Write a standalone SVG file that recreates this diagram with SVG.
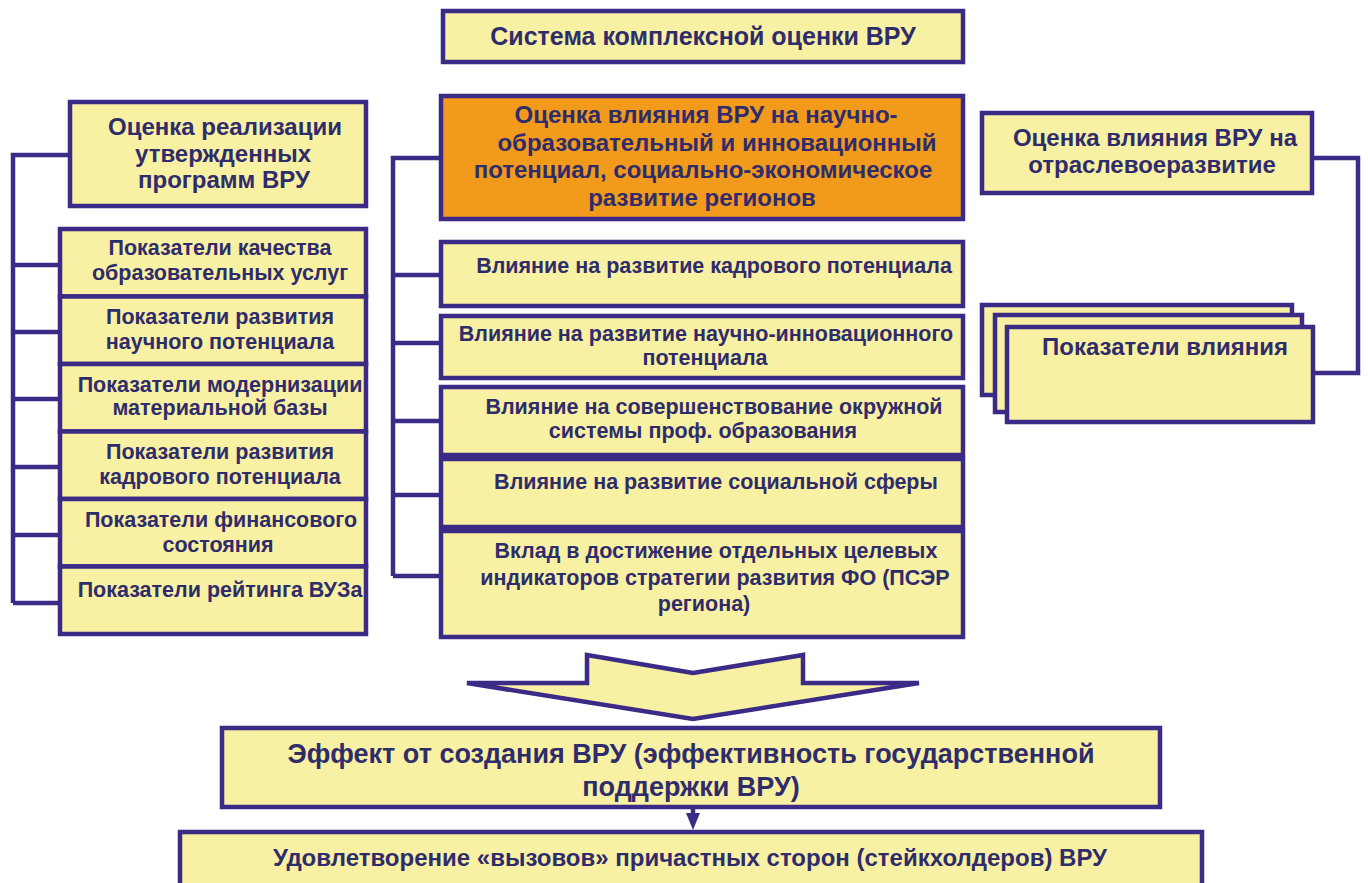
<svg xmlns="http://www.w3.org/2000/svg" width="1368" height="883" viewBox="0 0 1368 883">
<style>
.box{fill:#f8f0a2;stroke:#3b2a86;stroke-width:4.5}
.org{fill:#f29a1c;stroke:#3b2a86;stroke-width:4.5}
.ln{fill:none;stroke:#3b2a86;stroke-width:4.5}
text{font-family:"Liberation Sans",Arial,sans-serif;font-weight:bold;fill:#2f2c6c;text-anchor:middle}
.h{font-size:24px}
.s{font-size:21.5px}
.b{font-size:27px}
</style>
<rect width="1368" height="883" fill="#ffffff"/>
<g id="connectors">
<polyline class="ln" points="72,155 13,155 13,603"/>
<line class="ln" x1="13" y1="265" x2="60" y2="265"/>
<line class="ln" x1="13" y1="332" x2="60" y2="332"/>
<line class="ln" x1="13" y1="399" x2="60" y2="399"/>
<line class="ln" x1="13" y1="467" x2="60" y2="467"/>
<line class="ln" x1="13" y1="535" x2="60" y2="535"/>
<line class="ln" x1="13" y1="603" x2="60" y2="603"/>
<polyline class="ln" points="441,158 393,158 393,576"/>
<line class="ln" x1="393" y1="275" x2="441" y2="275"/>
<line class="ln" x1="393" y1="343" x2="441" y2="343"/>
<line class="ln" x1="393" y1="421" x2="441" y2="421"/>
<line class="ln" x1="393" y1="495" x2="441" y2="495"/>
<line class="ln" x1="393" y1="576" x2="441" y2="576"/>
<polyline class="ln" points="1312,158 1358,158 1358,373 1313,373"/>
<line class="ln" x1="693" y1="807" x2="693" y2="815"/>
<polygon points="686,813 700,813 693,830" fill="#3b2a86"/>
</g>
<g id="title">
<rect class="box" x="443" y="11" width="520" height="51"/>
<text x="703" y="45" style="font-size:25px">Система комплексной оценки ВРУ</text>
</g>
<g id="orange">
<rect class="org" x="441" y="96" width="522" height="123"/>
<text class="h" x="706" y="123">Оценка влияния ВРУ на научно-</text>
<text class="h" x="717" y="151">образовательный и инновационный</text>
<text class="h" x="703" y="178">потенциал, социально-экономическое</text>
<text class="h" x="702" y="206">развитие регионов</text>
</g>
<g id="left-header">
<rect class="box" x="70" y="102" width="296" height="104"/>
<text x="225" y="135" style="font-size:24px">Оценка реализации</text>
<text x="223" y="162" style="font-size:24px">утвержденных</text>
<text x="224" y="188" style="font-size:24px">программ ВРУ</text>
</g>
<g id="left-1">
<rect class="box" x="60" y="229" width="306" height="67.5"/>
<text class="s" x="220" y="255">Показатели качества</text>
<text class="s" x="220" y="280">образовательных услуг</text>
</g>
<g id="left-2">
<rect class="box" x="60" y="296.5" width="306" height="67.5"/>
<text class="s" x="220" y="324">Показатели развития</text>
<text class="s" x="220" y="349">научного потенциала</text>
</g>
<g id="left-3">
<rect class="box" x="60" y="364" width="306" height="67.5"/>
<text class="s" x="220" y="392">Показатели модернизации</text>
<text class="s" x="220" y="415">материальной базы</text>
</g>
<g id="left-4">
<rect class="box" x="60" y="431.5" width="306" height="67.5"/>
<text class="s" x="220" y="459">Показатели развития</text>
<text class="s" x="220" y="484">кадрового потенциала</text>
</g>
<g id="left-5">
<rect class="box" x="60" y="499" width="306" height="67.5"/>
<text class="s" x="221" y="527">Показатели финансового</text>
<text class="s" x="218" y="552">состояния</text>
</g>
<g id="left-6">
<rect class="box" x="60" y="566.5" width="306" height="67.5"/>
<text class="s" x="220" y="597">Показатели рейтинга ВУЗа</text>
</g>
<g id="mid-1">
<rect class="box" x="441" y="242" width="522" height="64"/>
<text class="s" x="714" y="273">Влияние на развитие кадрового потенциала</text>
</g>
<g id="mid-2">
<rect class="box" x="441" y="316" width="522" height="62"/>
<text class="s" x="706" y="341">Влияние на развитие научно-инновационного</text>
<text class="s" x="705" y="365">потенциала</text>
</g>
<g id="mid-3">
<rect class="box" x="441" y="387" width="522" height="68"/>
<text class="s" x="714" y="414">Влияние на совершенствование окружной</text>
<text class="s" x="703" y="438">системы проф. образования</text>
</g>
<g id="mid-4">
<rect class="box" x="441" y="459" width="522" height="68"/>
<text class="s" x="716" y="489">Влияние на развитие социальной сферы</text>
</g>
<g id="mid-5">
<rect class="box" x="441" y="531" width="522" height="106"/>
<text class="s" x="716" y="558">Вклад в достижение отдельных целевых</text>
<text class="s" x="715" y="585">индикаторов стратегии развития ФО (ПСЭР</text>
<text class="s" x="704" y="611">региона)</text>
</g>
<g id="right-header">
<rect class="box" x="982" y="113" width="330" height="80"/>
<text class="h" x="1155" y="146">Оценка влияния ВРУ на</text>
<text class="h" x="1152" y="173">отраслевоеразвитие</text>
</g>
<g id="right-indicators">
<rect class="box" x="982" y="305" width="310" height="90"/>
<rect class="box" x="995" y="315" width="307" height="97"/>
<rect class="box" x="1007" y="327" width="306" height="95"/>
<text class="h" x="1165" y="355">Показатели влияния</text>
</g>
<g id="big-arrow">
<polygon class="box" points="587,655 693,673 803,655 803,683 919,683 693,719 467,683 587,683"/>
</g>
<g id="effect">
<rect class="box" x="222" y="728" width="938" height="79"/>
<text class="b" x="691" y="763">Эффект от создания ВРУ (эффективность государственной</text>
<text class="b" x="691" y="796">поддержки ВРУ)</text>
</g>
<g id="stakeholders">
<rect class="box" x="180" y="832" width="1022" height="80"/>
<text x="690" y="866" style="font-size:24px">Удовлетворение «вызовов» причастных сторон (стейкхолдеров) ВРУ</text>
</g>
</svg>
